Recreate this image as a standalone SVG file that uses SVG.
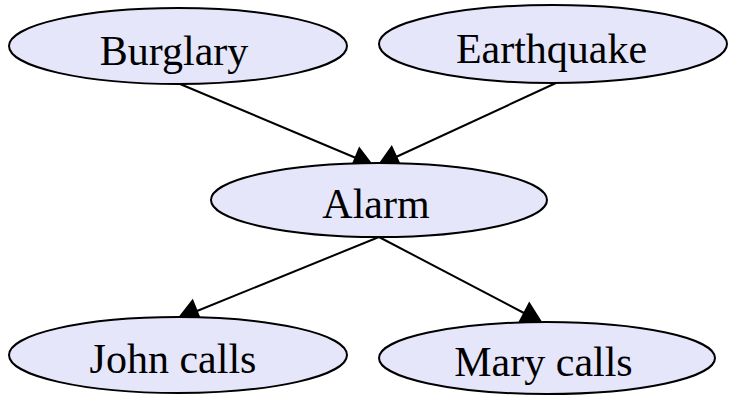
<svg xmlns="http://www.w3.org/2000/svg" width="729" height="395" viewBox="0 0 729 395">
  <style>
    .node ellipse { fill: #e6e6fa; stroke: #000; stroke-width: 2; }
    .node text { font-family: "Liberation Serif", "Times New Roman", serif; font-size: 42px; fill: #000; text-anchor: middle; }
    .edge line { stroke: #000; stroke-width: 2; }
    .edge polygon { fill: #000; stroke: #000; stroke-width: 2; stroke-linejoin: miter; }
  </style>
  <rect width="729" height="395" fill="#fff"/>

  <g id="edges">
    <g class="edge" id="burglary-alarm">
      <line x1="180" y1="84" x2="356" y2="158"/>
      <polygon points="359.4,148.4 351.4,167.8 372,165"/>
    </g>
    <g class="edge" id="earthquake-alarm">
      <line x1="556" y1="83" x2="396" y2="157"/>
      <polygon points="391.7,147.1 400.9,167.1 379,165"/>
    </g>
    <g class="edge" id="alarm-john">
      <line x1="379" y1="237" x2="197" y2="311"/>
      <polygon points="192.5,300.7 200.7,321.1 179,318"/>
    </g>
    <g class="edge" id="alarm-mary">
      <line x1="379" y1="237" x2="524" y2="313"/>
      <polygon points="529.3,303.5 519.1,322.9 541,322"/>
    </g>
  </g>

  <g class="node" id="burglary">
    <ellipse cx="178" cy="46" rx="169" ry="38"/>
    <text x="174" y="64.5">Burglary</text>
  </g>
  <g class="node" id="earthquake">
    <ellipse cx="553" cy="44" rx="174" ry="39"/>
    <text x="551.5" y="63">Earthquake</text>
  </g>
  <g class="node" id="alarm">
    <ellipse cx="379" cy="200" rx="168" ry="37"/>
    <text x="376" y="218">Alarm</text>
  </g>
  <g class="node" id="john">
    <ellipse cx="178" cy="355" rx="169" ry="38"/>
    <text x="173" y="373">John calls</text>
  </g>
  <g class="node" id="mary">
    <ellipse cx="547" cy="358" rx="168" ry="36"/>
    <text x="543.5" y="376">Mary calls</text>
  </g>
</svg>
